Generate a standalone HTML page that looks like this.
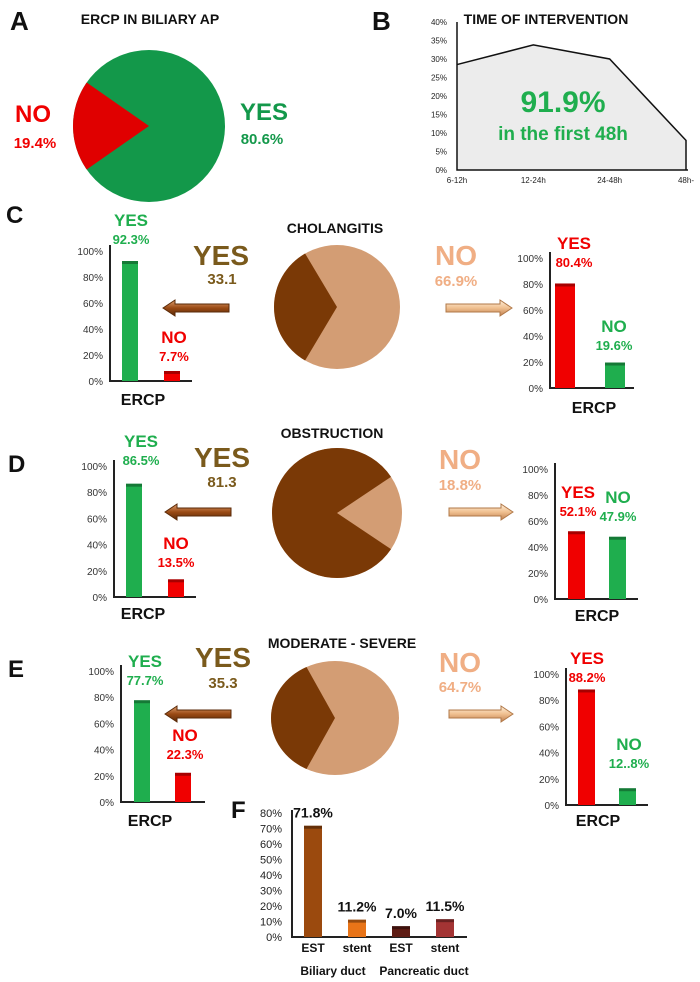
<!DOCTYPE html>
<html><head><meta charset="utf-8"><style>
html,body{margin:0;padding:0;background:#fff;}
svg{display:block;font-family:"Liberation Sans Narrow","Liberation Sans",sans-serif;}
</style></head><body>
<svg id="fig" width="700" height="982" viewBox="0 0 700 982" xmlns="http://www.w3.org/2000/svg">
<defs>
<linearGradient id="gBrown" x1="0" y1="0" x2="0" y2="1"><stop offset="0" stop-color="#e0a070"/><stop offset="0.5" stop-color="#9a4a14"/><stop offset="1" stop-color="#5a2a08"/></linearGradient>
<linearGradient id="gPeach" x1="0" y1="0" x2="0" y2="1"><stop offset="0" stop-color="#fff0dc"/><stop offset="0.5" stop-color="#f0c090"/><stop offset="1" stop-color="#c08050"/></linearGradient>
</defs>
<g id="root"></g>
</svg>
<script>
// ---- data ----
const pieAValues = [80.6, 19.4];
const timeCategories = ["6-12h", "12-24h", "24-48h", "48h-"];
const timeValues = [28.5, 33.8, 30, 8];
const timeTicks = [0, 5, 10, 15, 20, 25, 30, 35, 40];
const pieCValues = [33.1, 66.9];
const cLeftValues = [92.3, 7.7];
const cRightValues = [80.4, 19.6];
const pieDValues = [81.3, 18.8];
const dLeftValues = [86.5, 13.5];
const dRightValues = [52.1, 47.9];
const pieEValues = [35.3, 64.7];
const eLeftValues = [77.7, 22.3];
const eRightValues = [88.2, 12.8];
const eRightLabels = ["88.2%", "12..8%"];
const pctTicks = [0, 20, 40, 60, 80, 100];
const fCategories = ["EST", "stent", "EST", "stent"];
const fValues = [71.8, 11.2, 7.0, 11.5];
const fTicks = [0, 10, 20, 30, 40, 50, 60, 70, 80];

const NS = "http://www.w3.org/2000/svg";
const root = document.getElementById("root");
function mk(tag, attrs, parent) {
  const e = document.createElementNS(NS, tag);
  for (const k in attrs) e.setAttribute(k, attrs[k]);
  (parent || root).appendChild(e);
  return e;
}
function txt(s, x, y, size, color, weight, anchor, name, parent) {
  const t = mk("text", {x: x, y: y, "font-size": size, fill: color, "font-weight": weight || "bold", "text-anchor": anchor || "middle"}, parent);
  t.textContent = s;
  
  
  return t;
}
const GREEN = "#1fae4e", RED = "#f00000", DARKB = "#7a3906", LIGHTB = "#d39d74", OLIVE = "#7a5a1c", PEACH = "#f0ae84";

// pie: first value slice centered at 180deg (left)
function pie(vals, cx, cy, rx, ry, cFirst, cRest, name) {
  const g = mk("g", {});
  
  
  const tot = vals[0] + vals[1];
  const half = vals[0] / tot * Math.PI;
  const a0 = Math.PI - half, a1 = Math.PI + half;
  const p = a => [cx + rx * Math.cos(a), cy - ry * Math.sin(a)];
  const s = p(a0), e = p(a1);
  const large = half * 2 > Math.PI ? 1 : 0;
  const bg = mk("ellipse", {cx: cx, cy: cy, rx: rx, ry: ry, fill: cRest}, g);
  
  
  const w = mk("path", {d: `M${cx},${cy} L${s[0]},${s[1]} A${rx},${ry} 0 ${large} 0 ${e[0]},${e[1]} Z`, fill: cFirst}, g);
  
  
  return g;
}

function arrow(x1, x2, y, left, fill, stroke, name) {
  let d;
  if (left) d = `M${x1},${y} L${x1 + 12},${y - 8} L${x1 + 12},${y - 4} L${x2},${y - 4} L${x2},${y + 4} L${x1 + 12},${y + 4} L${x1 + 12},${y + 8} Z`;
  else d = `M${x2},${y} L${x2 - 12},${y - 8} L${x2 - 12},${y - 4} L${x1},${y - 4} L${x1},${y + 4} L${x2 - 12},${y + 4} L${x2 - 12},${y + 8} Z`;
  const a = mk("path", {d: d, fill: fill, stroke: stroke, "stroke-width": 1});
  
  
}

// bar chart with pct axis
function barChart(vals, labels, cfg, name) {
  const g = mk("g", {});
  
  
  const yS = v => cfg.y0 - (v / 100) * (cfg.y0 - cfg.y100);
  pctTicks.forEach(t => {
    txt(t + "%", cfg.ax - 7, yS(t) + 4, 10, "#333", "normal", "end", "y-tick-label", g);
  });
  const ax = mk("path", {d: `M${cfg.ax},${cfg.y100 - 6} L${cfg.ax},${cfg.y0} L${cfg.ax + cfg.len},${cfg.y0}`, stroke: "#222", "stroke-width": 2, fill: "none"}, g);
  
  
  const cols = cfg.colors;
  vals.forEach((v, i) => {
    const x = cfg.bx[i], top = yS(v);
    const r = mk("rect", {x: x, y: top, width: cfg.bw, height: cfg.y0 - top, fill: cols[i]}, g);
    
    
    const cap = mk("rect", {x: x, y: top, width: cfg.bw, height: 3, fill: "rgba(0,0,0,0.3)"}, g);
    
    
    const lp = cfg.lbl[i];
    txt(i === 0 ? "YES" : "NO", lp[0], lp[1], 17, cols[i], "bold", "middle", "bar-category-label", g);
    txt(labels[i], lp[0], lp[1] + 18, 13, cols[i], "bold", "middle", "bar-value-label", g);
  });
  txt("ERCP", cfg.ercp[0], cfg.ercp[1], 16, "#111", "bold", "middle", "x-axis-title", g);
}
const pctLbl = a => a.map(v => v + "%");

// ---------- Panel A ----------
txt("A", 10, 30, 26, "#111", "bold", "start", "panel-a-letter");
txt("ERCP IN BILIARY AP", 150, 24, 14, "#111", "bold", "middle", "panel-a-title");
pie([pieAValues[1], pieAValues[0]], 149, 126, 76, 76, "#e00000", "#13984a", "pie-a");
txt("NO", 33, 122, 24, RED, "bold", "middle", "pie-a-no-label");
txt(pieAValues[1] + "%", 35, 148, 15, RED, "bold", "middle", "pie-a-no-value");
txt("YES", 264, 120, 24, "#13984a", "bold", "middle", "pie-a-yes-label");
txt(pieAValues[0] + "%", 262, 144, 15, "#13984a", "bold", "middle", "pie-a-yes-value");

// ---------- Panel B ----------
txt("B", 372, 30, 26, "#111", "bold", "start", "panel-b-letter");
txt("TIME OF INTERVENTION", 546, 24, 14, "#111", "bold", "middle", "panel-b-title");
(function () {
  const x0 = 457, y0 = 170, ppp = 3.7;
  const xs = [457, 533, 610, 686];
  const xS = i => xs[0] + (xs[3] - xs[0]) * i / (timeCategories.length - 1);
  const yS = v => y0 - v * ppp;
  const g = mk("g", {});
  
  
  let d = `M${xS(0)},${y0}`;
  timeValues.forEach((v, i) => d += ` L${xS(i)},${yS(v)}`);
  d += ` L${xS(timeValues.length - 1)},${y0} Z`;
  const area = mk("path", {d: d, fill: "#ececec", stroke: "none"}, g);
  
  
  let ld = "";
  timeValues.forEach((v, i) => ld += (i ? " L" : "M") + xS(i) + "," + yS(v));
  ld += ` L${xS(timeValues.length - 1)},${y0}`;
  const line = mk("path", {d: ld, fill: "none", stroke: "#111", "stroke-width": 1.5}, g);
  
  
  const ax = mk("path", {d: `M${x0},${yS(40)} L${x0},${y0} L${xS(3) + 2},${y0}`, stroke: "#111", "stroke-width": 1.5, fill: "none"}, g);
  
  
  timeTicks.forEach(t => txt(t + "%", x0 - 10, yS(t) + 3, 8, "#222", "normal", "end", "y-tick-label", g));
  timeCategories.forEach((c, i) => txt(c, xS(i), 183, 8, "#222", "normal", "middle", "x-tick-label", g));
  txt("91.9%", 563, 112, 30, "#1fae4e", "bold", "middle", "percent-first-48h", g);
  txt("in the first 48h", 563, 140, 19, "#1fae4e", "bold", "middle", "first-48h-caption", g);
})();

// ---------- Panel C ----------
txt("C", 6, 223, 24, "#111", "bold", "start", "panel-c-letter");
txt("CHOLANGITIS", 335, 233, 14, "#111", "bold", "middle", "panel-c-title");
barChart(cLeftValues, pctLbl(cLeftValues), {ax: 110, y0: 381, y100: 251, len: 82, bx: [122, 164], bw: 16, colors: [GREEN, RED], lbl: [[131, 226], [174, 343]], ercp: [143, 405]}, "chart-c-left");
txt("YES", 221, 265, 28, OLIVE, "bold", "middle", "c-yes-label");
txt(pieCValues[0], 222, 284, 15, OLIVE, "bold", "middle", "c-yes-value");
arrow(163, 229, 308, true, "url(#gBrown)", "#5a2a08", "c-left-arrow");
pie(pieCValues, 337, 307, 63, 62, DARKB, LIGHTB, "pie-c");
txt("NO", 456, 265, 28, PEACH, "bold", "middle", "c-no-label");
txt(pieCValues[1] + "%", 456, 286, 15, PEACH, "bold", "middle", "c-no-value");
arrow(446, 512, 308, false, "url(#gPeach)", "#b07848", "c-right-arrow");
barChart(cRightValues, pctLbl(cRightValues), {ax: 550, y0: 388, y100: 258, len: 84, bx: [555, 605], bw: 20, colors: [RED, GREEN], lbl: [[574, 249], [614, 332]], ercp: [594, 413]}, "chart-c-right");

// ---------- Panel D ----------
txt("D", 8, 472, 24, "#111", "bold", "start", "panel-d-letter");
txt("OBSTRUCTION", 332, 438, 14, "#111", "bold", "middle", "panel-d-title");
barChart(dLeftValues, pctLbl(dLeftValues), {ax: 114, y0: 597, y100: 466, len: 82, bx: [126, 168], bw: 16, colors: [GREEN, RED], lbl: [[141, 447], [176, 549]], ercp: [143, 619]}, "chart-d-left");
txt("YES", 222, 467, 28, OLIVE, "bold", "middle", "d-yes-label");
txt(pieDValues[0], 222, 487, 15, OLIVE, "bold", "middle", "d-yes-value");
arrow(165, 231, 512, true, "url(#gBrown)", "#5a2a08", "d-left-arrow");
pie(pieDValues, 337, 513, 65, 65, DARKB, LIGHTB, "pie-d");
txt("NO", 460, 469, 28, PEACH, "bold", "middle", "d-no-label");
txt(pieDValues[1] + "%", 460, 490, 15, PEACH, "bold", "middle", "d-no-value");
arrow(449, 513, 512, false, "url(#gPeach)", "#b07848", "d-right-arrow");
barChart(dRightValues, pctLbl(dRightValues), {ax: 555, y0: 599, y100: 469, len: 83, bx: [568, 609], bw: 17, colors: [RED, GREEN], lbl: [[578, 498], [618, 503]], ercp: [597, 621]}, "chart-d-right");

// ---------- Panel E ----------
txt("E", 8, 677, 24, "#111", "bold", "start", "panel-e-letter");
txt("MODERATE - SEVERE", 342, 648, 14, "#111", "bold", "middle", "panel-e-title");
barChart(eLeftValues, pctLbl(eLeftValues), {ax: 121, y0: 802, y100: 671, len: 84, bx: [134, 175], bw: 16, colors: [GREEN, RED], lbl: [[145, 667], [185, 741]], ercp: [150, 826]}, "chart-e-left");
txt("YES", 223, 667, 28, OLIVE, "bold", "middle", "e-yes-label");
txt(pieEValues[0], 223, 688, 15, OLIVE, "bold", "middle", "e-yes-value");
arrow(165, 231, 714, true, "url(#gBrown)", "#5a2a08", "e-left-arrow");
pie(pieEValues, 335, 718, 64, 57, DARKB, LIGHTB, "pie-e");
txt("NO", 460, 672, 28, PEACH, "bold", "middle", "e-no-label");
txt(pieEValues[1] + "%", 460, 692, 15, PEACH, "bold", "middle", "e-no-value");
arrow(449, 513, 714, false, "url(#gPeach)", "#b07848", "e-right-arrow");
barChart(eRightValues, eRightLabels, {ax: 566, y0: 805, y100: 674, len: 82, bx: [578, 619], bw: 17, colors: [RED, GREEN], lbl: [[587, 664], [629, 750]], ercp: [598, 826]}, "chart-e-right");

// ---------- Panel F ----------
txt("F", 231, 818, 24, "#111", "bold", "start", "panel-f-letter");
(function () {
  const ax = 292, y0 = 937, y80 = 813;
  const yS = v => y0 - v / 80 * (y0 - y80);
  const xs = [304, 348, 393, 436];
  const xS = i => xs[0] + (xs[3] - xs[0]) * i / (fCategories.length - 1);
  const colors = ["#9b4a0e", "#e87418", "#5e1c14", "#a33434"];
  const g = mk("g", {});
  
  
  fTicks.forEach(t => txt(t + "%", ax - 10, yS(t) + 4, 11, "#222", "normal", "end", "y-tick-label", g));
  const a = mk("path", {d: `M${ax},${y80 - 3} L${ax},${y0} L${467},${y0}`, stroke: "#222", "stroke-width": 2, fill: "none"}, g);
  
  
  fValues.forEach((v, i) => {
    const x = xS(i), top = yS(v);
    const r = mk("rect", {x: x, y: top, width: 18, height: y0 - top, fill: colors[i]}, g);
    
    
    const cap = mk("rect", {x: x, y: top, width: 18, height: 3, fill: "rgba(0,0,0,0.35)"}, g);
    
    
    txt(v.toFixed(1) + "%", x + 9, top - 8, 14, "#111", "bold", "middle", "bar-value-label", g);
    txt(fCategories[i], x + 9, 952, 12, "#111", "bold", "middle", "x-tick-label", g);
  });
  txt("Biliary duct", 333, 975, 12, "#111", "bold", "middle", "group-label-biliary", g);
  txt("Pancreatic duct", 424, 975, 12, "#111", "bold", "middle", "group-label-pancreatic", g);
})();
</script>
</body></html>
